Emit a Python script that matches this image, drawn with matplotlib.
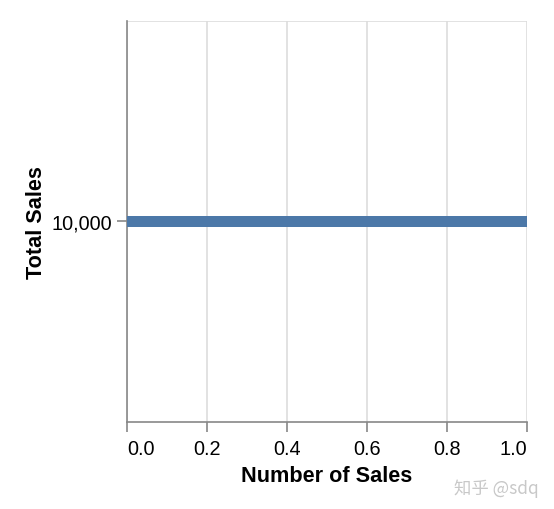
import matplotlib.pyplot as plt

# data
number_of_sales = [1.0]
total_sales = [10000]
x_ticks = [0.0, 0.2, 0.4, 0.6, 0.8, 1.0]

plt.rcParams["font.family"] = ["Liberation Sans", "DejaVu Sans"]

fig = plt.figure(figsize=(5.54, 5.10), dpi=100)
ax = fig.add_axes([127 / 554, 87 / 510, 400 / 554, 401 / 510])

ax.barh(total_sales, number_of_sales, height=0.5, color="#4c78a8", zorder=3)

ax.set_xlim(0, 1)
ax.set_ylim(9990, 10010)
ax.set_xticks(x_ticks)
ax.set_xticklabels([f"{v:.1f}" for v in x_ticks])
ax.set_yticks(total_sales)
ax.set_yticklabels([f"{v:,}" for v in total_sales])

# flush first/last x labels like vega-lite does
xlabels = ax.get_xticklabels()
xlabels[0].set_horizontalalignment("left")
xlabels[-1].set_horizontalalignment("right")

ax.grid(axis="x", color="#dddddd", linewidth=1.2, zorder=0)
ax.axhline(10010, color="#dddddd", linewidth=1.2, zorder=0)

for side in ["top", "right"]:
    ax.spines[side].set_visible(False)
for side in ["left", "bottom"]:
    ax.spines[side].set_color("#888888")
    ax.spines[side].set_linewidth(1.2)

ax.tick_params(axis="both", colors="#888888", length=7, width=1.2,
               labelsize=14.3, labelcolor="black", pad=4)
ax.tick_params(axis="x", pad=5)

ax.set_xlabel("Number of Sales", fontsize=15.6, fontweight="bold", labelpad=5)
ax.set_ylabel("Total Sales", fontsize=15.6, fontweight="bold", labelpad=3)

fig.text(0.82, 0.032, "知乎 @sdq", fontsize=12.5, color="#c8c8c8",
         family=["Noto Sans CJK SC", "DejaVu Sans"])

plt.savefig("out.png", dpi=100)
plt.close()
